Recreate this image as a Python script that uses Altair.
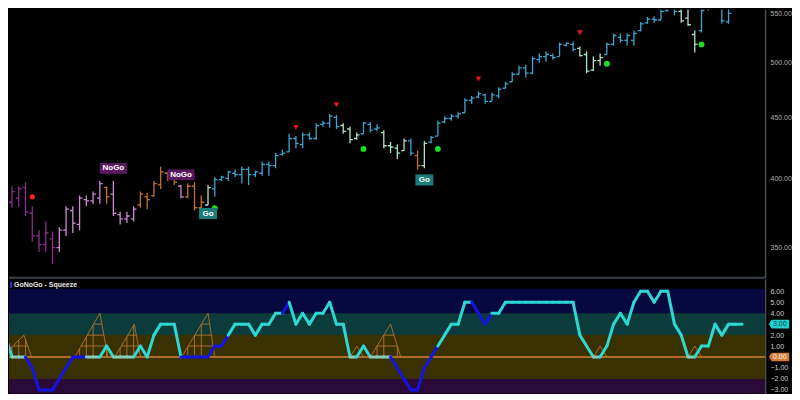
import altair as alt
import pandas as pd

# ---------------- price bars (weekly OHLC) ----------------
bar_open = [382, 385, 393, 374, 358, 352, 356, 350, 362, 376,
            366, 384, 383, 385, 393, 388, 373, 370, 370, 380,
            386, 387, 395, 404, 400, 394, 386, 394, 378, 380,
            392, 399, 400, 404, 403, 407, 403, 404, 411, 410,
            419, 421, 432, 427, 435, 432, 444, 445, 450, 443,
            440, 432, 436, 444, 440, 437, 426, 424, 422, 430,
            418, 410, 429, 434, 446, 449, 451, 454, 465, 468,
            470, 464, 469, 476, 482, 489, 495, 490, 503, 506,
            507, 506, 517, 518, 514, 508, 493, 502, 508, 518,
            525, 522, 522, 532, 540, 544, 543, 553, 556, 552,
            545, 528, 532, 556, 562, 560, 541, 562, 570]
bar_high = [394, 394, 397, 379, 362, 368, 361, 364, 379, 379,
            387, 387, 390, 398, 394, 398, 375, 375, 379, 390,
            389, 398, 409, 405, 404, 395, 396, 397, 387, 395,
            401, 402, 406, 407, 409, 409, 406, 413, 413, 420,
            423, 436, 434, 437, 437, 445, 447, 453, 452, 445,
            442, 437, 446, 446, 444, 439, 429, 427, 432, 432,
            422, 430, 434, 447, 451, 453, 455, 467, 469, 473,
            471, 472, 477, 482, 491, 497, 498, 506, 509, 511,
            509, 520, 520, 521, 516, 511, 506, 509, 520, 529,
            529, 529, 532, 541, 546, 547, 554, 558, 565, 560,
            556, 532, 560, 570, 575, 565, 560, 575, 578]
bar_low = [378, 379, 372, 354, 347, 347, 339, 347, 358, 360,
           362, 379, 381, 381, 381, 372, 366, 367, 368, 378,
           377, 386, 392, 398, 395, 385, 385, 376, 372, 380,
           386, 398, 398, 401, 396, 395, 401, 402, 402, 408,
           418, 421, 424, 424, 431, 431, 442, 441, 440, 436,
           428, 431, 436, 437, 438, 424, 420, 415, 422, 418,
           407, 408, 428, 434, 445, 447, 449, 454, 462, 467,
           462, 464, 467, 476, 482, 489, 486, 489, 500, 501,
           503, 506, 516, 511, 506, 490, 492, 497, 508, 517,
           520, 517, 517, 531, 539, 540, 543, 552, 548, 540,
           537, 510, 530, 553, 558, 539, 539, 560, 562]
bar_close = [390, 392, 375, 358, 352, 360, 350, 362, 377, 367,
             385, 383, 388, 396, 386, 374, 370, 372, 377, 388,
             384, 396, 405, 400, 397, 386, 394, 378, 382, 393,
             399, 401, 405, 403, 407, 403, 405, 411, 410, 418,
             420, 432, 428, 435, 432, 443, 445, 451, 442, 438,
             431, 435, 445, 439, 441, 426, 425, 420, 430, 420,
             410, 428, 433, 445, 449, 451, 453, 465, 467, 471,
             464, 470, 475, 480, 489, 495, 490, 504, 506, 508,
             505, 518, 519, 513, 507, 492, 502, 505, 518, 527,
             522, 527, 529, 539, 544, 543, 552, 556, 552, 542,
             538, 518, 553, 562, 565, 542, 550, 572, 575]
bar_state = ["NG", "NG", "NG", "NG", "NG", "NG", "NG", "WNG", "WNG", "WNG",
             "WNG", "WNG", "WNG", "WNG", "N", "WNG", "WNG", "WNG", "WNG", "N",
             "N", "N", "N", "N", "N", "WNG", "N", "N", "N", "WG",
             "G", "G", "G", "G", "G", "G", "G", "G", "G", "G",
             "G", "G", "G", "G", "G", "G", "G", "G", "G", "WG",
             "WG", "WG", "G", "G", "G", "WG", "WG", "WG", "WG", "G",
             "N", "WG", "G", "G", "G", "G", "G", "G", "G", "G",
             "G", "G", "G", "G", "G", "G", "G", "G", "G", "G",
             "G", "G", "G", "G", "WG", "WG", "WG", "WG", "G", "G",
             "G", "G", "G", "G", "G", "G", "G", "G", "G", "WG",
             "WG", "WG", "G", "G", "G", "G", "G", "G", "G"]
state_names = ["NG", "WNG", "N", "WG", "G"]
state_colors = ["#8a2d8c", "#cf8ad6", "#c2722f", "#ace4c6", "#3ea4d0"]

# signals
red_dot_idx = [3]
red_dot_price = [386]
green_dot_idx = [30, 52, 63, 88, 102]
green_dot_price = [377.6, 423.4, 423.4, 499, 518]
red_tri_idx = [42, 48, 69, 84]
red_tri_price = [441.4, 461, 484.6, 529.8]
label_idx = [15, 25, 29, 61]
label_price = [407.8, 402.8, 373.8, 398.8]
label_text = ["NoGo", "NoGo", "Go", "Go"]

# ---------------- oscillator (starts at index -1) ----------------
osc_values = [2,
              0, 0, 0, -1, -3, -3, -3, -2, -1, 0,
              0, 0, 0, 0, 1, 0, 0, 0, 0, 1,
              0, 2, 3, 3, 3, 0, 0, 0, 0, 0,
              1, 1, 2, 3, 3, 3, 2, 3, 3, 4,
              4, 5, 3, 4, 3, 4, 4, 5, 3, 3,
              0, 0, 1, 0, 0, 0, 0, -1, -2, -3,
              -3, -1, 0, 1, 2, 3, 3, 5, 5, 4,
              3, 4, 4, 5, 5, 5, 5, 5, 5, 5,
              5, 5, 5, 5, 2, 1, 0, 0, 1, 3,
              4, 3, 5, 6, 6, 5, 6, 6, 3, 2,
              0, 0, 1, 1, 3, 2, 3, 3, 3]
osc_seg_codes = list("cppbbbbbbbbbppccpppcccccccbbbbbbbccccccccbcccccccccpcc"
                     "pppbbbbbbbcccccbbbcccccccccccccccpcccccccccccccpccccccc")
seg_code_color = {"c": "#2ed8d2", "b": "#1414e0", "p": "#86ccb8"}

# squeeze ladders (start idx, apex idx, end idx, height)
sq_start = [-1.5, 9.3, 15.2, 25.1, 50.0, 53.0, 86.0, 100.0]
sq_apex = [1.75, 13.0, 18.1, 29.0, 51.0, 56.0, 87.0, 101.0]
sq_end = [2.9, 14.2, 19.0, 30.0, 52.0, 57.5, 88.0, 102.0]
sq_peak = [2, 4, 3, 4, 1, 3, 1, 1]

band_lo = [4, 2, -2, -3.4]
band_hi = [6.24, 4, 2, -2]
band_col = ["#06083f", "#0c3b3b", "#3a3100", "#2a0a38"]

# 3.00 and 0.00 are shown in the value tags instead of plain labels
lower_ticks = [-3, -2, -1, 1, 2, 4, 5, 6]
price_ticks = [350, 400, 450, 500, 550]

# ---------------- layout ----------------
W = 758
H_MAIN = 269
H_LOW = 115
FONT = "Liberation Sans"

xs = alt.Scale(domain=[-0.44, 111.4], nice=False, zero=False)
ys = alt.Scale(type="log", domain=[330.2, 554.1], nice=False, zero=False)
cs = alt.Scale(domain=state_names, range=state_colors)

bars = pd.DataFrame(dict(i=list(range(len(bar_open))), o=bar_open, h=bar_high,
                         l=bar_low, c=bar_close, s=bar_state))
base = alt.Chart(bars)
price_axis = alt.Axis(orient="right", values=price_ticks, format=".2f", title=None,
                      ticks=False, grid=False, labelColor="#b0b0b0", labelFontSize=7,
                      labelPadding=5, domainColor="#4a4f5a", domainWidth=1.5,
                      labelOverlap=False)
hl = base.mark_rule(strokeWidth=1.3, clip=True).encode(
    x=alt.X("i:Q", scale=xs, axis=None),
    y=alt.Y("l:Q", scale=ys, axis=price_axis),
    y2="h:Q",
    color=alt.Color("s:N", scale=cs, legend=None))
ot = base.transform_calculate(xo="datum.i - 0.42").mark_rule(strokeWidth=1.3, clip=True).encode(
    x="xo:Q", x2="i:Q", y="o:Q", color=alt.Color("s:N", scale=cs, legend=None))
ct = base.transform_calculate(xc="datum.i + 0.42").mark_rule(strokeWidth=1.3, clip=True).encode(
    x="i:Q", x2="xc:Q", y="c:Q", color=alt.Color("s:N", scale=cs, legend=None))

reddot = alt.Chart(pd.DataFrame(dict(i=red_dot_idx, p=red_dot_price))).mark_point(
    shape="circle", filled=True, size=28, color="#ff1c1c", opacity=1).encode(x="i:Q", y="p:Q")
greendot = alt.Chart(pd.DataFrame(dict(i=green_dot_idx, p=green_dot_price))).mark_point(
    shape="circle", filled=True, size=34, color="#1ee01e", opacity=1).encode(x="i:Q", y="p:Q")
redtri = alt.Chart(pd.DataFrame(dict(i=red_tri_idx, p=red_tri_price))).mark_point(
    shape="triangle-down", filled=True, size=32, color="#e3161b", opacity=1).encode(x="i:Q", y="p:Q")

labels = alt.Chart(pd.DataFrame(dict(i=label_idx, p=label_price, t=label_text)))
nogo_box = labels.transform_filter("datum.t == 'NoGo'").mark_point(
    shape="M-1,-0.4L1,-0.4L1,0.4L-1,0.4Z", filled=True, size=729, color="#5b1a5f",
    opacity=1).encode(x="i:Q", y="p:Q")
go_box = labels.transform_filter("datum.t == 'Go'").mark_point(
    shape="M-1,-0.62L1,-0.62L1,0.62L-1,0.62Z", filled=True, size=324, color="#1b7c7a",
    opacity=1).encode(x="i:Q", y="p:Q")
label_txt = labels.mark_text(color="#ffffff", fontSize=8, fontWeight="bold", font=FONT,
                             baseline="middle").encode(x="i:Q", y="p:Q", text="t:N")

sep = alt.Chart(pd.DataFrame({"a": [0]})).mark_rule(color="#3a404c", strokeWidth=2).encode(
    x=alt.value(0), x2=alt.value(W), y=alt.value(H_MAIN))

main = alt.layer(hl, ot, ct, reddot, greendot, redtri, nogo_box, go_box, label_txt, sep).properties(
    width=W, height=H_MAIN)

# ---------------- lower panel ----------------
lys = alt.Scale(domain=[-3.33, 7.14], nice=False, zero=False)
low_axis = alt.Axis(orient="right", values=lower_ticks, format=".2f", title=None, ticks=False,
                    grid=False, labelColor="#cfcfcf", labelFontSize=7, labelPadding=5,
                    domainColor="#4a4f5a", domainWidth=1.5, labelOverlap=False,
                    labelSeparation=0, labelFlush=False)

bands = alt.Chart(pd.DataFrame(dict(lo=band_lo, hi=band_hi, col=band_col))).mark_rect(clip=True).encode(
    x=alt.value(0), x2=alt.value(W),
    y=alt.Y("lo:Q", scale=lys, axis=low_axis), y2="hi:Q",
    fill=alt.Fill("col:N", scale=None))

zero_line = alt.Chart(pd.DataFrame({"z": [0]})).mark_rule(color="#d9822b", strokeWidth=1.6).encode(
    x=alt.value(0), x2=alt.value(W), y=alt.Y("z:Q", axis=low_axis))

lad_rows = []
for s, a, e, p in zip(sq_start, sq_apex, sq_end, sq_peak):
    lad_rows.append((s, a, 0, p))
    lad_rows.append((a, e, p, 0))
    for lev in range(1, p):
        lad_rows.append((s + (a - s) * lev / p, e - (e - a) * lev / p, lev, lev))
    j = int(s) + 1
    while j < e:
        if j != a:
            hgt = p * (j - s) / (a - s) if j < a else p * (e - j) / (e - a)
            lad_rows.append((j, j, 0, hgt))
        j += 1
ladders = alt.Chart(pd.DataFrame(lad_rows, columns=["x0", "x1", "y0", "y1"])).mark_rule(
    color="#c8782e", strokeWidth=0.8, clip=True).encode(
    x=alt.X("x0:Q", scale=xs, axis=None), x2="x1:Q", y=alt.Y("y0:Q", axis=low_axis), y2="y1:Q")

seg_rows = []
for k in range(len(osc_values) - 1):
    seg_rows.append((k - 1, k, osc_values[k], osc_values[k + 1], seg_code_color[osc_seg_codes[k]]))
osc = alt.Chart(pd.DataFrame(seg_rows, columns=["a", "b", "v0", "v1", "col"])).mark_rule(
    strokeWidth=3, strokeCap="round", clip=True).encode(
    x=alt.X("a:Q", scale=xs, axis=None), x2="b:Q", y=alt.Y("v0:Q", axis=low_axis), y2="v1:Q",
    stroke=alt.Stroke("col:N", scale=None))

tag_shape = "M-1,0L-0.72,-0.42L1,-0.42L1,0.42L-0.72,0.42Z"
last_df = pd.DataFrame({"v": [osc_values[-1]], "t": [f"{osc_values[-1]:.2f}"]})
zero_df = pd.DataFrame({"v": [0], "t": ["0.00"]})
tag_last = alt.Chart(last_df).mark_point(shape=tag_shape, filled=True, size=420, color="#22cfd0",
                                         opacity=1).encode(x=alt.value(W + 14), y=alt.Y("v:Q", axis=low_axis))
tag_last_t = alt.Chart(last_df).mark_text(fontSize=7, color="#0b3c44", font=FONT, align="left",
                                          baseline="middle").encode(
    x=alt.value(W + 8), y=alt.Y("v:Q", axis=low_axis), text="t:N")
tag_zero = alt.Chart(zero_df).mark_point(shape=tag_shape, filled=True, size=420, color="#d27c33",
                                         opacity=1).encode(x=alt.value(W + 14), y=alt.Y("v:Q", axis=low_axis))
tag_zero_t = alt.Chart(zero_df).mark_text(fontSize=7, color="#ffffff", font=FONT, align="left",
                                          baseline="middle").encode(
    x=alt.value(W + 8), y=alt.Y("v:Q", axis=low_axis), text="t:N")

one = pd.DataFrame({"a": [0]})
header = alt.Chart(one).mark_text(text="GoNoGo - Squeeze", fontSize=7, fontWeight="bold",
                                  color="#e8e8e8", font=FONT, align="left", baseline="middle").encode(
    x=alt.value(5), y=alt.value(6))
header_mark = alt.Chart(one).mark_rect(color="#2a36c8").encode(
    x=alt.value(1), x2=alt.value(3), y=alt.value(3), y2=alt.value(9))

lower = alt.layer(bands, zero_line, ladders, osc, tag_last, tag_last_t, tag_zero, tag_zero_t,
                  header, header_mark).properties(width=W, height=H_LOW)

chart = alt.vconcat(main, lower, spacing=0).properties(
    padding=0, background="#000000").configure(
    font=FONT, view=alt.ViewConfig(stroke="transparent", strokeWidth=0))

chart.save("out.html", embed_options={"renderer": "svg", "actions": False})
